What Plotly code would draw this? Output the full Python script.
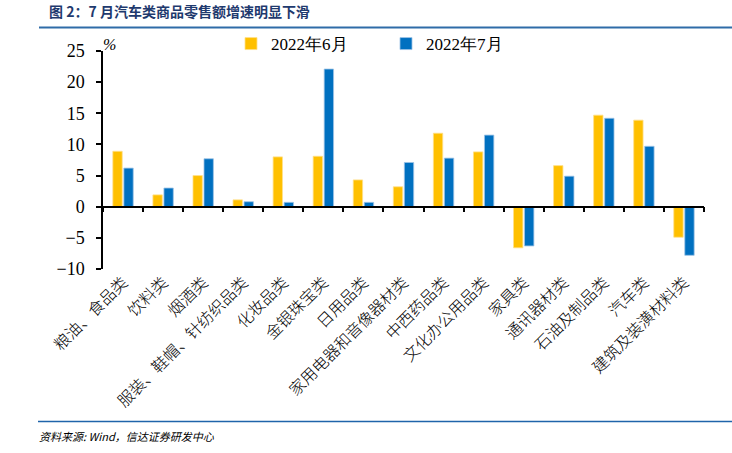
import plotly.graph_objects as go

categories = ["粮油、食品类", "饮料类", "烟酒类", "服装、鞋帽、针纺织品类", "化妆品类",
              "金银珠宝类", "日用品类", "家用电器和音像器材类", "中西药品类", "文化办公用品类",
              "家具类", "通讯器材类", "石油及制品类", "汽车类", "建筑及装潢材料类"]
jun_2022 = [8.9, 1.9, 5.0, 1.1, 8.0, 8.1, 4.3, 3.2, 11.8, 8.8, -6.6, 6.6, 14.7, 13.9, -4.9]
jul_2022 = [6.2, 3.0, 7.7, 0.8, 0.7, 22.1, 0.7, 7.1, 7.8, 11.5, -6.3, 4.9, 14.2, 9.7, -7.8]
series_names = ["2022年6月", "2022年7月"]
y_ticks = [25, 20, 15, 10, 5, 0, -5, -10]

W, H = 732, 453
ML, MR, MT, MB = 103, 28, 51, 184
PW = W - ML - MR
PH = H - MT - MB
Y_MIN, Y_MAX = -10, 25
zero_pos = (0 - Y_MIN) / (Y_MAX - Y_MIN)

serif = "Liberation Serif"
cjk = "Noto Sans CJK SC"

fig = go.Figure()
fig.add_trace(go.Bar(x=categories, y=jun_2022, name=series_names[0],
                     marker=dict(color="#FFC000", line=dict(color="#FFE08A", width=0.8))))
fig.add_trace(go.Bar(x=categories, y=jul_2022, name=series_names[1],
                     marker=dict(color="#0070C0", line=dict(color="#9DC3E6", width=0.8))))
# invisible helper trace so that the zero-line axis carries the categories
fig.add_trace(go.Scatter(x=categories, y=[0] * len(categories), xaxis="x2", mode="markers",
                         marker=dict(opacity=0), showlegend=False, hoverinfo="skip"))

fig.update_layout(
    width=W, height=H,
    margin=dict(l=ML, r=MR, t=MT, b=MB, autoexpand=False),
    paper_bgcolor="white", plot_bgcolor="white",
    barmode="group", bargap=0.45, bargroupgap=0.15,
    font=dict(family=serif, color="black"),
    xaxis=dict(type="category", categoryarray=categories, range=[-0.5, len(categories) - 0.5],
               showline=False, ticks="", showgrid=False, zeroline=False, automargin=False,
               tickangle=-45, tickfont=dict(family=cjk, size=16, color="black", weight=300)),
    xaxis2=dict(type="category", categoryarray=categories, range=[-0.5, len(categories) - 0.5],
                overlaying="x", anchor="free", position=zero_pos, side="bottom",
                showline=True, linecolor="black", linewidth=1.5,
                ticks="outside", tickson="boundaries", ticklen=5, tickwidth=1.5, tickcolor="black",
                showticklabels=False, showgrid=False, zeroline=False),
    yaxis=dict(range=[Y_MIN, Y_MAX], tickvals=y_ticks, showline=True, linecolor="black", linewidth=1.5,
               ticks="outside", ticklen=5, tickwidth=1.5, tickcolor="black", automargin=False,
               ticklabelstandoff=8,
               showgrid=False, zeroline=False, tickfont=dict(family=serif, size=18, color="black")),
    legend=dict(orientation="h", x=(231 - ML) / PW, xanchor="left", y=(H - MB - 44) / PH, yanchor="middle",
                font=dict(family=serif, size=17, color="black"), itemwidth=30,
                entrywidth=110, entrywidthmode="pixels", bgcolor="rgba(0,0,0,0)", traceorder="normal",
                itemclick=False),
    title=dict(text="<b>图 2：7 月汽车类商品零售额增速明显下滑</b>", xref="container", yref="container",
               x=49 / W, xanchor="left", y=1 - 12 / H, yanchor="middle",
               font=dict(family=cjk, size=14, color="#1F3A6E")),
)

fig.add_annotation(text="<i>%</i>", xref="paper", yref="paper", x=(101 - ML) / PW, y=(H - MB - 44) / PH,
                   xanchor="left", yanchor="middle", showarrow=False,
                   font=dict(family=serif, size=16, color="black"))
fig.add_annotation(text="<i>资料来源: Wind，信达证券研发中心</i>", xref="paper", yref="paper",
                   x=(37 - ML) / PW, y=(H - MB - 436) / PH, xanchor="left", yanchor="middle",
                   showarrow=False, font=dict(family=cjk, size=11, color="black"))

fig.add_shape(type="line", xref="paper", yref="paper", x0=(39 - ML) / PW, x1=(W - ML) / PW,
              y0=(H - MB - 27.5) / PH, y1=(H - MB - 27.5) / PH, line=dict(color="#2F6CA8", width=2))
fig.add_shape(type="line", xref="paper", yref="paper", x0=(38 - ML) / PW, x1=(W - ML) / PW,
              y0=(H - MB - 421.5) / PH, y1=(H - MB - 421.5) / PH, line=dict(color="#1F64AA", width=1.5))

fig.write_html("out.html", config={"displayModeBar": False},
               post_script="document.body.style.margin='0';document.body.style.padding='0';")
